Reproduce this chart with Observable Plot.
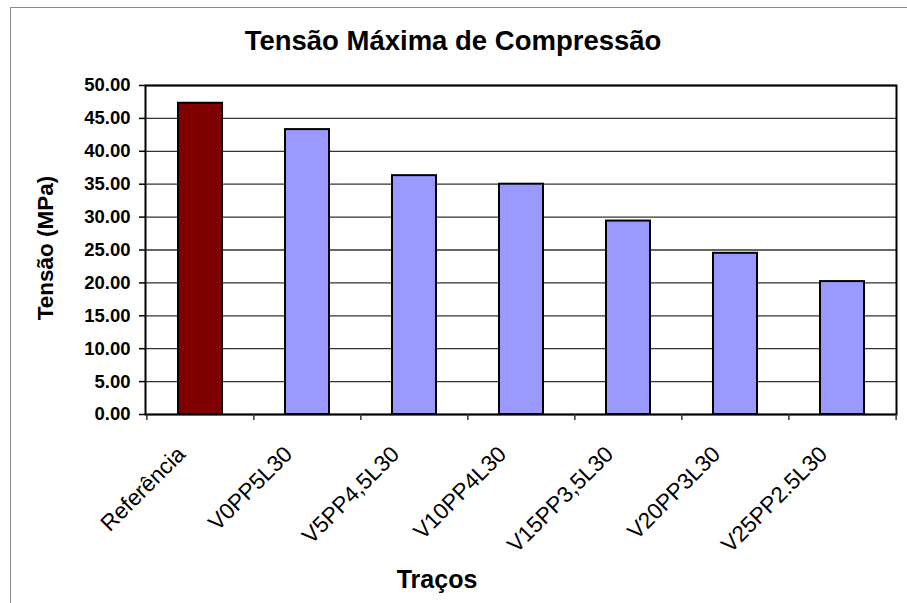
<!DOCTYPE html>
<html>
<head>
<meta charset="utf-8">
<script src="https://cdn.jsdelivr.net/npm/d3@7"></script>
<script src="https://cdn.jsdelivr.net/npm/@observablehq/plot@0.6"></script>
<style>
  body { margin: 0; background: #fff; }
  #wrap { position: relative; width: 907px; height: 603px; overflow: hidden; background: #fff; }
  #border { position: absolute; left: 10px; top: 7px; width: 920px; height: 620px; border: 1.5px solid #8c8c8c; }
  #chart { position: absolute; left: 0; top: 0; }
</style>
</head>
<body>
<div id="wrap"><div id="border"></div><div id="chart"></div></div>
<script>
const title = "Tensão Máxima de Compressão";
const xTitle = "Traços";
const yTitle = "Tensão (MPa)";
const categories = ["Referência", "V0PP5L30", "V5PP4,5L30", "V10PP4L30", "V15PP3,5L30", "V20PP3L30", "V25PP2.5L30"];
const values = [47.3, 43.3, 36.3, 35.0, 29.4, 24.5, 20.2];
const yTicks = [0, 5, 10, 15, 20, 25, 30, 35, 40, 45, 50];

const data = categories.map((c, i) => ({cat: c, val: values[i]}));

const W = 907, H = 603;
const mL = 145, mR = 11, mT = 85, mB = 189;
const step = (W - mL - mR) / categories.length;
const font = "'Liberation Sans', Arial, sans-serif";

const chart = Plot.plot({
  width: W,
  height: H,
  marginLeft: mL,
  marginRight: mR,
  marginTop: mT,
  marginBottom: mB,
  style: {fontFamily: font, background: "transparent", overflow: "visible"},
  x: {domain: categories, paddingInner: 0.59, paddingOuter: 0.295, align: 0.5, axis: null, label: null},
  y: {domain: [0, 50], axis: null, label: null},
  marks: [
    Plot.gridY(yTicks, {stroke: "#333", strokeOpacity: 1, strokeWidth: 1.3}),
    Plot.barY(data, {
      x: "cat", y: "val",
      fill: d => d.cat === "Referência" ? "#800000" : "#9999ff",
      stroke: "black", strokeWidth: 2
    }),
    Plot.frame({stroke: "black", strokeWidth: 2}),
    Plot.axisY(yTicks, {
      label: null,
      tickSize: 6, tickPadding: 9, tickFormat: d => d.toFixed(2),
      fontSize: 18.5, fontWeight: "bold", stroke: "black", strokeWidth: 1.5, fill: "black"
    }),
    Plot.axisX(categories, {
      label: null,
      tickSize: 6, tickFormat: () => "", dx: -step / 2, stroke: "#333", strokeWidth: 1.5
    }),
    Plot.axisX([categories[categories.length - 1]], {
      label: null,
      tickSize: 6, tickFormat: () => "", dx: step / 2, stroke: "#333", strokeWidth: 1.5
    }),
    Plot.axisX(categories, {
      label: null,
      tickSize: 0, tickPadding: 36, tickRotate: -45, dx: -19,
      fontSize: 22.5, fill: "black"
    }),
    Plot.text([title], {
      frameAnchor: "top", lineAnchor: "middle", dy: -44, dx: -68,
      fontSize: 27.5, fontWeight: "bold", fill: "black"
    }),
    Plot.text([xTitle], {
      frameAnchor: "bottom", lineAnchor: "bottom", dy: 173, dx: -84,
      fontSize: 25, fontWeight: "bold", fill: "black"
    }),
    Plot.text([yTitle], {
      frameAnchor: "left", textAnchor: "middle", lineAnchor: "middle", dx: -100, dy: -2, rotate: -90,
      fontSize: 22.5, fontWeight: "bold", fill: "black"
    })
  ]
});
document.getElementById("chart").appendChild(chart);
</script>
</body>
</html>
